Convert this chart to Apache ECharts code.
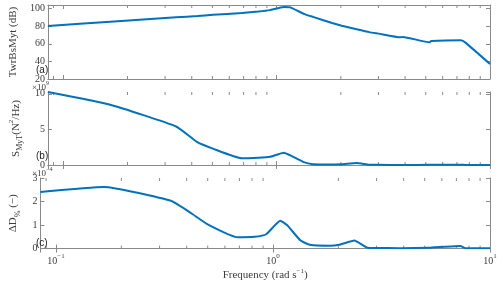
<!DOCTYPE html>
<html><head><meta charset="utf-8">
<script src="https://cdn.jsdelivr.net/npm/echarts@6/dist/echarts.min.js"></script>
<style>html,body{margin:0;padding:0;background:#fff}#c{width:500px;height:282px}</style>
</head><body><div id="c"></div>
<script>
// Frequency (rad/s)
const freq = [0.0847, 0.166, 0.338, 0.425, 0.502, 0.687, 0.82, 0.93, 1.08, 1.16, 1.34, 1.48, 1.82, 2.02, 2.37, 2.72, 3.0, 3.8, 3.9, 5.2, 5.3, 7.3, 7.7, 10];
// (a) TwrBsMyt (dB)
const twrBsMyt = [80.3, 85, 90, 91.5, 92.8, 95, 96.6, 98.2, 101.8, 101.3, 94, 90.5, 83.5, 80.5, 76.5, 73.2, 71.5, 67.3, 67.8, 61.6, 63, 64, 61, 37];
// (b) S_MyT (x 1e9 N^2/Hz)
const sMyT = [10.24, 8.45, 5.4, 3.2, 2.3, 0.95, 1.03, 1.15, 1.73, 1.35, 0.4, 0.12, 0.08, 0.1, 0.28, 0.03, 0.02, 0.01, 0.01, 0.02, 0.02, 0.04, 0.01, 0.01];
// (c) Delta D_% (x 1e-4)
const deltaD = [2.41, 2.62, 2.03, 1.47, 1.02, 0.48, 0.5, 0.61, 1.18, 1.0, 0.34, 0.16, 0.12, 0.16, 0.34, 0.04, 0.03, 0.02, 0.02, 0.04, 0.04, 0.11, 0.02, 0.01];
const majorTicks = [0.1, 1, 10];
const minorTicks = [0.09, 0.2, 0.3, 0.4, 0.5, 0.6, 0.7, 0.8, 0.9, 2, 3, 4, 5, 6, 7, 8, 9];
const panelLabels = ['(a)', '(b)', '(c)'];

const X_MIN = 0.0847, X_MAX = 10;
const BLUE = '#0072BD', AX = '#8a8a8a', TXT = '#3a3a3a';
const SERIF = 'Liberation Serif';

const grids = [
  {left: 32, top: 5, width: 458, height: 74},
  {left: 32, top: 92, width: 458, height: 73},
  {left: 32, top: 178, width: 458, height: 74}
];
const yRanges = [[20, 104, 20], [0, 10.25, 5], [0, 3, 1]];
const yNames = [
  '{n|TwrBsMyt (dB)}',
  '{n|S}{sub|MyT}{n|(N}{sup|2}{n|/Hz)}',
  '{n|ΔD}{sub|%}{n| (−)}'
];
const nameRich = {
  n: {fontFamily: SERIF, fontSize: 11, color: TXT, lineHeight: 16, verticalAlign: 'middle'},
  sub: {fontFamily: SERIF, fontSize: 8, color: TXT, lineHeight: 16, verticalAlign: 'bottom'},
  sup: {fontFamily: SERIF, fontSize: 7, color: TXT, lineHeight: 16, verticalAlign: 'top'}
};
const series = [twrBsMyt, sMyT, deltaD];

const xAxes = [], yAxes = [], ser = [];
grids.forEach((g, i) => {
  const last = i === 2;
  xAxes.push({
    type: 'log', logBase: 10, gridIndex: i, min: X_MIN, max: X_MAX, position: 'bottom',
    axisLine: {show: true, lineStyle: {color: AX, width: 1}},
    axisTick: {show: true, inside: true, length: 4, lineStyle: {color: AX}},
    splitLine: {show: false},
    axisLabel: {
      show: last, margin: 4,
      formatter: v => {
        const e = Math.log10(v);
        if (Math.abs(e - Math.round(e)) > 1e-6) return '';
        const r = Math.round(e);
        return '{b|10}{s|' + (r < 0 ? '−' + (-r) : r) + '}';
      },
      showMinLabel: false,
      rich: {
        b: {fontFamily: SERIF, fontSize: 10, color: TXT, lineHeight: 14, verticalAlign: 'bottom'},
        s: {fontFamily: SERIF, fontSize: 7, color: TXT, lineHeight: 14, verticalAlign: 'top'}
      }
    },
    name: last ? '{n|Frequency (rad s}{sup|−1}{n|)}' : '',
    nameLocation: 'middle', nameGap: 15,
    nameTextStyle: {rich: nameRich}
  });
  xAxes.push({
    type: 'log', logBase: 10, gridIndex: i, min: X_MIN, max: X_MAX, position: 'top',
    axisLine: {show: true, lineStyle: {color: AX, width: 1}},
    axisTick: {show: true, inside: true, length: 4, lineStyle: {color: AX}},
    axisLabel: {show: false}, splitLine: {show: false}
  });
  const [ymin, ymax, yint] = yRanges[i];
  yAxes.push({
    type: 'value', gridIndex: i, min: ymin, max: ymax, interval: yint, position: 'left',
    axisLine: {show: true, lineStyle: {color: AX, width: 1}},
    axisTick: {show: true, inside: true, length: 4, lineStyle: {color: AX}},
    splitLine: {show: false},
    axisLabel: {
      fontFamily: SERIF, fontSize: 10, color: TXT, margin: 3,
      formatter: v => (Math.abs(v / yint - Math.round(v / yint)) < 1e-6 ? String(v) : '')
    },
    name: yNames[i], nameLocation: 'middle', nameRotate: 90, nameGap: 17,
    nameTextStyle: {rich: nameRich}
  });
  yAxes.push({
    type: 'value', gridIndex: i, min: ymin, max: ymax, interval: yint, position: 'right',
    axisLine: {show: true, lineStyle: {color: AX, width: 1}},
    axisTick: {show: true, inside: true, length: 4, lineStyle: {color: AX}},
    axisLabel: {show: false}, splitLine: {show: false}
  });
  ser.push({
    type: 'line', xAxisIndex: 2 * i, yAxisIndex: 2 * i,
    data: freq.map((f, k) => [f, series[i][k]]),
    showSymbol: false, symbol: 'none', smooth: 0.15,
    lineStyle: {color: BLUE, width: 2}, clip: true, z: 5
  });
  ser.push({
    type: 'custom', xAxisIndex: 2 * i, yAxisIndex: 2 * i, silent: true, z: 3,
    data: minorTicks.map(f => [f, ymin]),
    renderItem: (params, api) => {
      const f = api.value(0);
      const p0 = api.coord([f, ymin]);
      const p1 = api.coord([f, ymax]);
      return {
        type: 'group', children: [
          {type: 'line', shape: {x1: p0[0], y1: p0[1], x2: p0[0], y2: p0[1] - 3}, style: {stroke: AX, lineWidth: 1}},
          {type: 'line', shape: {x1: p1[0], y1: p1[1], x2: p1[0], y2: p1[1] + 3}, style: {stroke: AX, lineWidth: 1}}
        ]
      };
    }
  });
});

const graphics = [];
panelLabels.forEach((t, i) => {
  graphics.push({type: 'text', left: 36, top: grids[i].top + grids[i].height - 14, z: 10,
    style: {text: t, font: '10px "Liberation Sans"', fill: '#222'}});
});
const expRich = {
  b: {fontFamily: SERIF, fontSize: 9, fill: TXT, color: TXT, lineHeight: 12, verticalAlign: 'bottom'},
  s: {fontFamily: SERIF, fontSize: 6, fill: TXT, color: TXT, lineHeight: 12, verticalAlign: 'top'}
};
graphics.push({type: 'text', left: 32, top: 80, style: {text: '{b|×10}{s|9}', rich: expRich}});
graphics.push({type: 'text', left: 32, top: 166, style: {text: '{b|×10}{s|−4}', rich: expRich}});

const chart = echarts.init(document.getElementById('c'), null, {renderer: 'canvas'});
chart.setOption({
  animation: false,
  backgroundColor: '#fff',
  grid: grids,
  xAxis: xAxes,
  yAxis: yAxes,
  series: ser,
  graphic: graphics
});
</script>
</body></html>
